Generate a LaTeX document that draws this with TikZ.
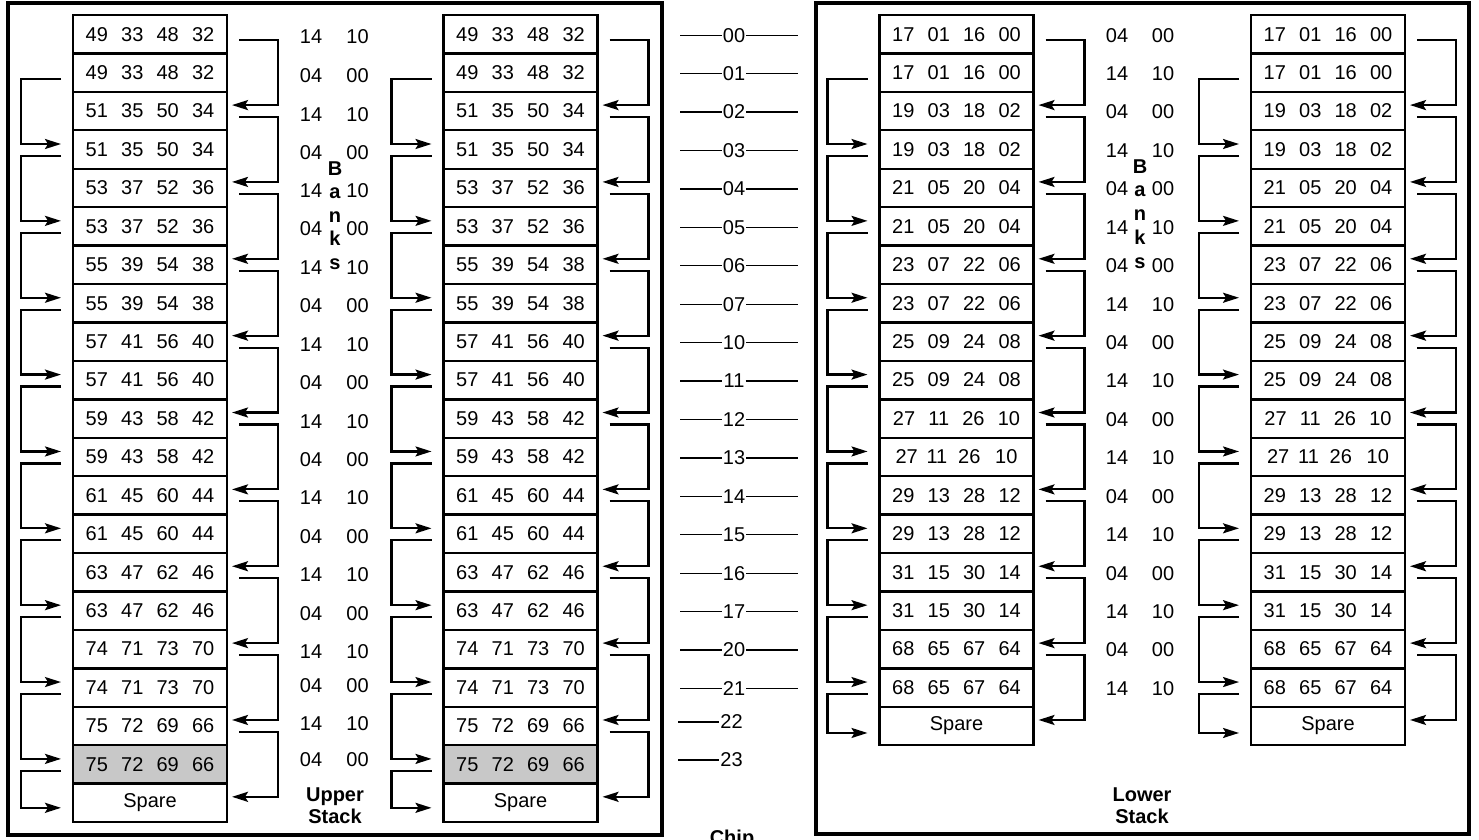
\documentclass[tikz,border=0pt]{standalone}
\usepackage{fontspec}
\setmainfont{Liberation Sans}
\usetikzlibrary{arrows.meta}
\definecolor{cellgray}{RGB}{200,200,200}
\newcommand\gp{\hspace{0.66em}}
\newcommand\nn[4]{#1\gp #2\gp #3\gp #4}
\newcommand\ntight{27\hspace{0.44em}11\hspace{0.54em}26\hspace{0.74em}10}
\begin{document}
\begin{tikzpicture}[x=1pt,y=-1pt,
  cell/.style={draw,line width=2.4pt,minimum width=154pt,minimum height=38.43pt,inner sep=0pt,outer sep=0pt,font=\fontsize{20}{24}\selectfont},
  lbl/.style={inner sep=0pt,font=\fontsize{20}{24}\selectfont},
  blbl/.style={inner sep=0pt,font=\bfseries\fontsize{20}{24}\selectfont},
  chiplbl/.style={inner sep=1pt,font=\fontsize{20}{24}\selectfont},
  conn/.style={line width=2.2pt,-{Stealth[length=16pt,width=10pt,inset=3pt]}},
  chipline/.style={line width=1.3pt},
  frame/.style={line width=3.2pt}]
\useasboundingbox (0,0) rectangle (1479,839);
\draw[frame] (8,3) rectangle (662,835);
\draw[frame] (816,3) rectangle (1469,834);

% ---------- upper stacks ----------
\foreach \s/\cx in {A/150,B/520.5}{
  \foreach \t [count=\r from 0] in {{\nn{49}{33}{48}{32}},{\nn{49}{33}{48}{32}},
      {\nn{51}{35}{50}{34}},{\nn{51}{35}{50}{34}},{\nn{53}{37}{52}{36}},{\nn{53}{37}{52}{36}},
      {\nn{55}{39}{54}{38}},{\nn{55}{39}{54}{38}},{\nn{57}{41}{56}{40}},{\nn{57}{41}{56}{40}},
      {\nn{59}{43}{58}{42}},{\nn{59}{43}{58}{42}},{\nn{61}{45}{60}{44}},{\nn{61}{45}{60}{44}},
      {\nn{63}{47}{62}{46}},{\nn{63}{47}{62}{46}},{\nn{74}{71}{73}{70}},{\nn{74}{71}{73}{70}},
      {\nn{75}{72}{69}{66}}}{
    \node[cell] (\s\r) at (\cx,{15+38.43*(\r+0.5)}) {\t};
  }
  \node[cell,fill=cellgray] (\s19) at (\cx,{15+38.43*19.5}) {\nn{75}{72}{69}{66}};
  \node[cell] (\s20) at (\cx,{15+38.43*20.5}) {Spare};
  \foreach \i in {0,2,...,18}{
    \pgfmathtruncatemacro\j{\i+2}
    \draw[conn] ([xshift=12pt,yshift=-6pt]\s\i.east) -- ++(39,0) |- ([xshift=5pt,yshift=6pt]\s\j.east);
  }
  \foreach \i in {1,3,...,17}{
    \pgfmathtruncatemacro\j{\i+2}
    \draw[conn] ([xshift=-12pt,yshift=-6.5pt]\s\i.west) -- ++(-40,0) |- ([xshift=-12pt,yshift=5.5pt]\s\j.west);
  }
  \draw[conn] ([xshift=-12pt,yshift=-6.5pt]\s19.west) -- ++(-40,0) |- ([xshift=-12pt,yshift=-5pt]\s20.west);
}

% ---------- lower stacks ----------
\foreach \s/\cx in {C/956.5,D/1328}{
  \foreach \t [count=\r from 0] in {{\nn{17}{01}{16}{00}},{\nn{17}{01}{16}{00}},
      {\nn{19}{03}{18}{02}},{\nn{19}{03}{18}{02}},{\nn{21}{05}{20}{04}},{\nn{21}{05}{20}{04}},
      {\nn{23}{07}{22}{06}},{\nn{23}{07}{22}{06}},{\nn{25}{09}{24}{08}},{\nn{25}{09}{24}{08}},
      {\nn{27}{11}{26}{10}},{\ntight},{\nn{29}{13}{28}{12}},{\nn{29}{13}{28}{12}},
      {\nn{31}{15}{30}{14}},{\nn{31}{15}{30}{14}},{\nn{68}{65}{67}{64}},{\nn{68}{65}{67}{64}}}{
    \node[cell] (\s\r) at (\cx,{15+38.43*(\r+0.5)}) {\t};
  }
  \node[cell] (\s18) at (\cx,{15+38.43*18.5}) {Spare};
  \foreach \i in {0,2,...,16}{
    \pgfmathtruncatemacro\j{\i+2}
    \draw[conn] ([xshift=12pt,yshift=-6pt]\s\i.east) -- ++(39,0) |- ([xshift=5pt,yshift=6pt]\s\j.east);
  }
  \foreach \i in {1,3,...,15}{
    \pgfmathtruncatemacro\j{\i+2}
    \draw[conn] ([xshift=-12pt,yshift=-6.5pt]\s\i.west) -- ++(-40,0) |- ([xshift=-12pt,yshift=5.5pt]\s\j.west);
  }
  \draw[conn] ([xshift=-12pt,yshift=-6.5pt]\s17.west) -- ++(-40,0) |- ([xshift=-12pt,yshift=-7pt]\s18.west);
}

% ---------- upper bank labels ----------
\foreach \i/\y in {0/37,1/76,2/114.5,3/153,4/191,5/229,6/268,7/306,8/345,9/383,
                   10/422,11/460,12/498,13/537,14/575,15/613.5,16/652,17/686,18/724,19/760}{
  \pgfmathtruncatemacro\pp{mod(\i,2)}
  \ifnum\pp=0
    \node[lbl] (ul\i) at (311,\y) {14};
    \node[lbl] (ur\i) at (357.5,\y) {10};
  \else
    \node[lbl] (ul\i) at (311,\y) {04};
    \node[lbl] (ur\i) at (357.5,\y) {00};
  \fi
}
\foreach \c [count=\k from 0] in {B,a,n,k,s}{
  \node[blbl,anchor=base] (ub\k) at (335,{175+23.5*\k}) {\c};
}
\node[blbl,anchor=base] (upA) at (335,801) {Upper};
\node[blbl,anchor=base] (upB) at (335,823) {Stack};

% ---------- lower bank labels ----------
\foreach \i in {0,...,17}{
  \pgfmathtruncatemacro\pp{mod(\i,2)}
  \pgfmathsetmacro\yy{34.215+38.43*\i+1}
  \ifnum\pp=0
    \node[lbl] (ll\i) at (1117,\yy) {04};
    \node[lbl] (lr\i) at (1163,\yy) {00};
  \else
    \node[lbl] (ll\i) at (1117,\yy) {14};
    \node[lbl] (lr\i) at (1163,\yy) {10};
  \fi
}
\foreach \c [count=\k from 0] in {B,a,n,k,s}{
  \node[blbl,anchor=base] (lb\k) at (1140,{173+23.75*\k}) {\c};
}
\node[blbl,anchor=base] (loA) at (1142,801) {Lower};
\node[blbl,anchor=base] (loB) at (1142,823) {Stack};

% ---------- chip column ----------
\foreach \t [count=\i from 0] in {00,01,02,03,04,05,06,07,10,11,12,13,14,15,16,17,20,21}{
  \pgfmathsetmacro\yy{34.215+38.43*(\i)+1}
  \node[chiplbl] (ch\i) at (734,\yy) {\t};
  \coordinate (chl\i) at (680,\yy);
  \coordinate (chr\i) at (798,\yy);
  \draw[chipline] (chl\i) -- (ch\i.west);
  \draw[chipline] (ch\i.east) -- (chr\i);
}
\node[chiplbl] (ch22) at (731.5,722) {22};
\coordinate (chl22) at (678,722);
\draw[chipline] (chl22) -- (ch22.west);
\node[chiplbl] (ch23) at (731.5,760) {23};
\coordinate (chl23) at (678,760);
\draw[chipline] (chl23) -- (ch23.west);
\node[blbl,anchor=base] (chip) at (732,844) {Chip};
\end{tikzpicture}
\end{document}
